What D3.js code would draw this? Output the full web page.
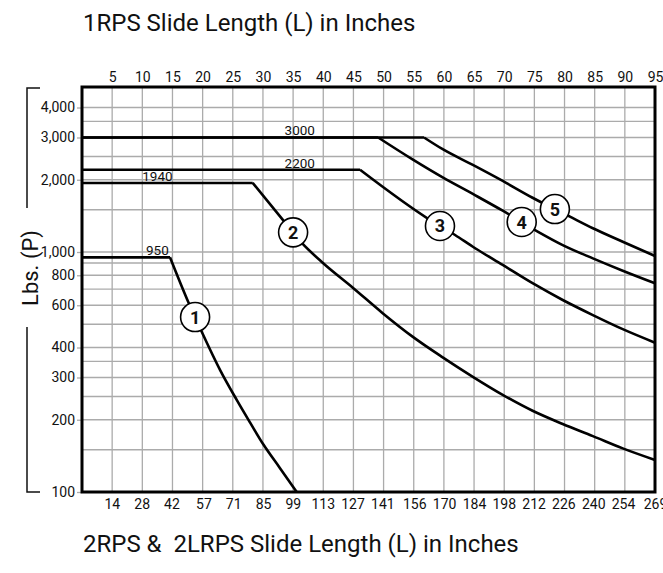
<!DOCTYPE html>
<html>
<head>
<meta charset="utf-8">
<script src="https://cdn.jsdelivr.net/npm/d3@7"></script>
<style>
  html, body { margin: 0; padding: 0; background: #fff; }
  svg { display: block; font-family: Roboto, "Noto Sans", sans-serif; }
  .title { white-space: pre; }
</style>
</head>
<body>
<svg id="chart" width="663" height="573"></svg>
<script>
// Slide length ticks: inches on top, 2RPS / 2LRPS scale on the bottom
const topTicks = [5, 10, 15, 20, 25, 30, 35, 40, 45, 50, 55, 60, 65, 70, 75, 80, 85, 90, 95];
const bottomTicks = [14, 28, 42, 57, 71, 85, 99, 113, 127, 141, 156, 170, 184, 198, 212, 226, 240, 254, 269];
// Load axis (lbs), log scale
const loadTicks = [100, 200, 300, 400, 600, 800, 1000, 2000, 3000, 4000];
const loadGrid = [150, 200, 250, 300, 350, 400, 500, 600, 700, 800, 900, 1000, 1500, 2000, 2500, 3000, 3500, 4000];

// Load curves: [slide length in inches, load in lbs]; first two points are the plateau
const curve1 = [[0, 950], [14.6, 950], [17.6, 621], [19.85, 465], [22.9, 322], [25.65, 242], [27.85, 195], [30.05, 158], [32.8, 126], [35.6, 100]];
const curve2 = [[0, 1940], [28.3, 1940], [33.1, 1380], [36.4, 1094], [39.9, 902], [44.9, 710], [49.85, 556], [54.8, 444], [59.8, 364], [64.8, 302], [69.75, 254], [74.7, 218], [79.7, 192], [84.7, 171], [89.65, 152], [95, 136]];
const curve3 = [[0, 2200], [46.1, 2200], [57.7, 1359], [61.85, 1177], [64.8, 1052], [69.75, 883], [74.7, 741], [79.7, 631], [84.7, 546], [89.65, 477], [95, 419]];
const curve4 = [[0, 3000], [49.1, 3000], [54.8, 2432], [59.8, 2046], [64.8, 1745], [69.75, 1486], [75.4, 1223], [79.7, 1069], [84.7, 941], [89.65, 836], [95, 741]];
const curve5 = [[0, 3000], [56.7, 3000], [59.8, 2681], [64.8, 2305], [69.75, 1977], [74.7, 1683], [80.9, 1403], [84.7, 1256], [89.65, 1104], [95, 962]];
const curves = [curve1, curve2, curve3, curve4, curve5];

// Numbered markers sit on each curve at these lengths (inches)
const markerNames = ["1", "2", "3", "4", "5"];
const markerLengths = [18.75, 35.0, 59.35, 72.9, 78.4];

// Plateau load labels: [text, length in inches, load]
const plateauLabels = [["950", 12.5, 950], ["1940", 12.5, 1940], ["2200", 36.1, 2200], ["3000", 36.1, 3000]];

const loadMax = 4870;

const svg = d3.select("#chart");
const x = d3.scaleLinear().domain([0, 95]).range([82, 655]);
const x2 = d3.scaleLinear().domain([0, 269]).range([82, 655]);
const y = d3.scaleLog().domain([100, loadMax]).range([492, 87]);
const [x0, x1] = x.range();
const [yb, yt] = y.range();
const gridColor = "#ababab";

// grid
const grid = svg.append("g").attr("stroke", gridColor).attr("stroke-width", 1.3);
grid.selectAll("line.v").data(topTicks).join("line").attr("class", "v")
  .attr("x1", d => x(d)).attr("x2", d => x(d)).attr("y1", yt).attr("y2", yb);
grid.selectAll("line.h").data(loadGrid).join("line").attr("class", "h")
  .attr("x1", x0).attr("x2", x1).attr("y1", d => y(d)).attr("y2", d => y(d));

// axes
const styleAxis = g => {
  g.attr("font-family", null).attr("font-size", 14).attr("fill", "#111");
  g.select(".domain").remove();
  g.selectAll("text").attr("fill", "#111");
};
svg.append("g").attr("transform", `translate(0,${yt})`)
  .call(d3.axisTop(x).tickValues(topTicks).tickSize(0).tickPadding(5))
  .call(styleAxis);
svg.append("g").attr("transform", `translate(0,${yb})`)
  .call(d3.axisBottom(x2).tickValues(bottomTicks).tickSize(0).tickPadding(7))
  .call(styleAxis);
svg.append("g").attr("transform", `translate(${x0},0)`)
  .call(d3.axisLeft(y).tickValues(loadTicks).tickFormat(d3.format(",")).tickSize(5).tickPadding(2))
  .call(styleAxis)
  .call(g => g.selectAll(".tick line").attr("stroke", gridColor).attr("stroke-width", 1.3));

// curves: straight plateau, smooth fall-off
const flat = d3.line().x(d => x(d[0])).y(d => y(d[1]));
const fall = d3.line().x(d => x(d[0])).y(d => y(d[1])).curve(d3.curveMonotoneX);
svg.append("g").attr("fill", "none").attr("stroke", "#000").attr("stroke-width", 2.6)
  .attr("stroke-linejoin", "round")
  .selectAll("path").data(curves).join("path")
  .attr("d", c => flat(c.slice(0, 2)) + fall(c.slice(1)));

// plateau labels
svg.append("g").attr("font-size", 13.5).attr("text-anchor", "middle").attr("fill", "#111")
  .selectAll("text").data(plateauLabels).join("text")
  .attr("x", d => x(d[1])).attr("y", d => y(d[2]) - 2).text(d => d[0]);

// frame
svg.append("rect").attr("x", x0).attr("y", yt).attr("width", x1 - x0).attr("height", yb - yt)
  .attr("fill", "none").attr("stroke", "#000").attr("stroke-width", 3);

// numbered markers
function loadAt(c, len) {
  for (let i = 1; i < c.length; i++) {
    if (len <= c[i][0]) {
      const a = c[i - 1], b = c[i];
      const t = (len - a[0]) / (b[0] - a[0]);
      return Math.exp(Math.log(a[1]) + t * (Math.log(b[1]) - Math.log(a[1])));
    }
  }
  return c[c.length - 1][1];
}
const markers = svg.append("g").selectAll("g").data(markerNames).join("g")
  .attr("transform", (d, i) => `translate(${x(markerLengths[i])},${y(loadAt(curves[i], markerLengths[i]))})`);
markers.append("circle").attr("r", 14.5).attr("fill", "#fff").attr("stroke", "#000").attr("stroke-width", 1.6);
markers.append("text").attr("text-anchor", "middle").attr("dy", "0.36em")
  .attr("font-size", 18).attr("font-weight", 700).attr("fill", "#111").text(d => d);

// load-axis title with its brackets
svg.append("path").attr("d", `M40,${yt + 1}H27V208`).attr("fill", "none").attr("stroke", "#111").attr("stroke-width", 1.5);
svg.append("path").attr("d", `M27,327V${yb}H40`).attr("fill", "none").attr("stroke", "#111").attr("stroke-width", 1.5);
svg.append("text").attr("transform", "translate(38,268) rotate(-90)").attr("text-anchor", "middle")
  .attr("font-size", 22).attr("fill", "#111").text("Lbs. (P)");

// titles
svg.append("text").attr("class", "title").attr("x", 83).attr("y", 31).attr("font-size", 24).attr("fill", "#111")
  .text("1RPS Slide Length (L) in Inches");
svg.append("text").attr("class", "title").attr("x", 83).attr("y", 552).attr("font-size", 24).attr("fill", "#111")
  .text("2RPS &  2LRPS Slide Length (L) in Inches");
</script>
</body>
</html>
